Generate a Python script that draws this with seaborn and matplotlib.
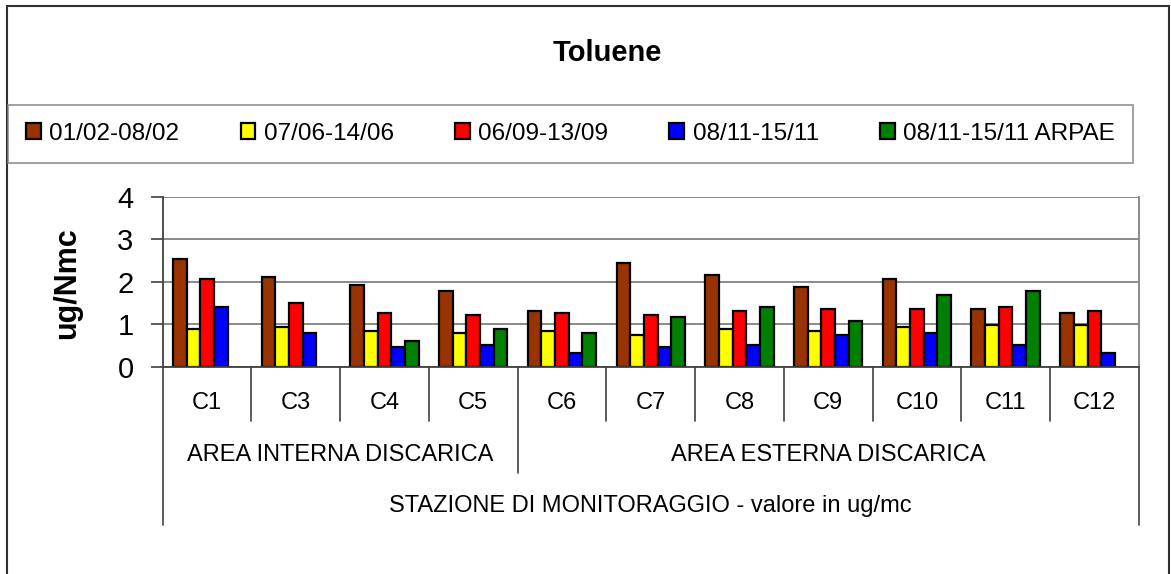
import numpy as np
import pandas as pd
import seaborn as sns
import matplotlib.pyplot as plt
import matplotlib.transforms as mtransforms
from matplotlib.patches import Rectangle

# dati (ug/Nmc)
stazioni = ['C1', 'C3', 'C4', 'C5', 'C6', 'C7', 'C8', 'C9', 'C10', 'C11', 'C12']
periodi = ['01/02-08/02', '07/06-14/06', '06/09-13/09', '08/11-15/11', '08/11-15/11 ARPAE']
feb = [2.53, 2.11, 1.92, 1.79, 1.32, 2.45, 2.16, 1.88, 2.07, 1.36, 1.27]
giu = [0.89, 0.93, 0.84, 0.79, 0.84, 0.75, 0.89, 0.84, 0.94, 0.99, 0.99]
set_ = [2.06, 1.51, 1.27, 1.22, 1.27, 1.22, 1.32, 1.36, 1.36, 1.41, 1.32]
nov = [1.41, 0.80, 0.47, 0.52, 0.33, 0.47, 0.52, 0.75, 0.80, 0.52, 0.33]
arpae = [np.nan, np.nan, 0.60, 0.89, 0.80, 1.18, 1.41, 1.08, 1.69, 1.79, np.nan]
colori = ['#993300', '#FFFF00', '#FF0000', '#0000FF', '#008000']
aree = ['AREA INTERNA DISCARICA', 'AREA ESTERNA DISCARICA']

rows = []
for per, vals in zip(periodi, [feb, giu, set_, nov, arpae]):
    for st, v in zip(stazioni, vals):
        rows.append({'stazione': st, 'periodo': per, 'valore': v})
df = pd.DataFrame(rows)

sns.set_style('white')
plt.rcParams['font.family'] = ['Liberation Sans', 'DejaVu Sans']
plt.rcParams['text.color'] = 'black'
plt.rcParams['ytick.color'] = 'black'

W, H = 1171, 574
fig = plt.figure(figsize=(W / 100, H / 100), dpi=100)
ax = fig.add_axes([162.7 / W, 1 - 366.7 / H, (1138.7 - 162.7) / W, 170 / H])

sns.barplot(data=df, x='stazione', y='valore', hue='periodo', order=stazioni,
            hue_order=periodi, palette=colori, width=0.77, errorbar=None,
            edgecolor='black', linewidth=1.6, saturation=1, ax=ax)

ax.set_ylim(0, 4)
ax.set_xlim(-0.5, 10.5)
ax.set_yticks([0, 1, 2, 3, 4])
ax.yaxis.grid(True, color='#808080', lw=1.3)
ax.set_axisbelow(True)
ax.tick_params(axis='y', labelsize=21, length=9, width=1.2, color='#404040',
               labelcolor='black', left=True, pad=12)
ax.tick_params(axis='x', length=0, labelbottom=False)
ax.set_xlabel('')
ax.set_ylabel('')
for s in ['left', 'bottom']:
    ax.spines[s].set_color('#404040')
    ax.spines[s].set_linewidth(1.3)
ax.spines['top'].set_visible(False)
ax.spines['right'].set_color('#808080')
ax.spines['right'].set_linewidth(1.3)

handles, labels = ax.get_legend_handles_labels()
ax.get_legend().remove()

# asse categorie gerarchico
tr = mtransforms.blended_transform_factory(ax.transData, fig.transFigure)
fy = lambda y: 1 - y / H
for i in range(1, len(stazioni)):
    ybot = 473 if i == 4 else 421
    ax.plot([i - 0.5, i - 0.5], [fy(366.7), fy(ybot)], color='#404040', lw=1.2,
            transform=tr, clip_on=False)
for xe in [-0.5, 10.5]:
    ax.plot([xe, xe], [fy(366.7), fy(525)], color='#404040', lw=1.2,
            transform=tr, clip_on=False)
for i, st in enumerate(stazioni):
    ax.text(i, fy(403), st, transform=tr, ha='center', va='center', fontsize=17)
ax.text(1.5, fy(455), aree[0], transform=tr, ha='center', va='center', fontsize=17)
ax.text(7, fy(455), aree[1], transform=tr, ha='center', va='center', fontsize=17)
ax.text(5, fy(506), 'STAZIONE DI MONITORAGGIO - valore in ug/mc', transform=tr,
        ha='center', va='center', fontsize=17)

fig.text(67 / W, fy(283), 'ug/Nmc', rotation=90, ha='center', va='center',
         fontsize=22, fontweight='bold')
fig.text(607 / W, fy(53), 'Toluene', ha='center', va='center', fontsize=21,
         fontweight='bold')

leg = fig.legend(handles, labels, loc='lower left', ncol=5, mode='expand',
                 bbox_to_anchor=(8 / W, fy(163), (1133 - 8) / W, 55 / H),
                 fontsize=17.5, frameon=True, fancybox=False, handlelength=0.6,
                 handleheight=0.6, handletextpad=0.35, borderaxespad=0,
                 borderpad=0.75)
leg.get_frame().set_edgecolor('#808080')
leg.get_frame().set_linewidth(1.3)
leg._legend_box.align = 'left'
for t in leg.get_texts():
    t.set_color('black')

fig.patches.append(Rectangle((7 / W, -0.01), (1169 - 7) / W, fy(6) + 0.01,
                             transform=fig.transFigure, fill=False,
                             edgecolor='#303030', lw=1.5))

fig.savefig('out.png', dpi=100)
